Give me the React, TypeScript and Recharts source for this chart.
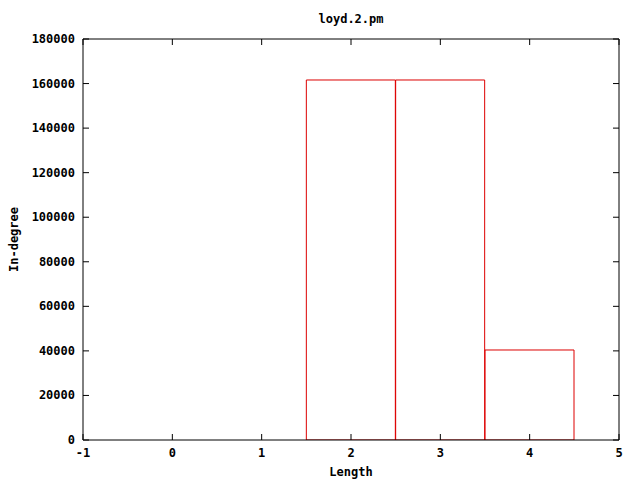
import React from 'react';
import { ComposedChart, Bar, Line, XAxis, YAxis } from 'recharts';

const lengths = [2, 3, 4];
const inDegree = [161600, 161600, 40400];
const xTicks = [-1, 0, 1, 2, 3, 4, 5];
const yTicks = [0, 20000, 40000, 60000, 80000, 100000, 120000, 140000, 160000, 180000];
const title = 'loyd.2.pm';
const xLabel = 'Length';
const yLabel = 'In-degree';

const data = lengths.map((l, i) => ({ length: l, value: inDegree[i] }));

const FONT = '"DejaVu Sans Mono", monospace';
const TICK = 6;

const XTickBottom = (props: any) => {
  const { x, y, payload } = props;
  return (
    <g>
      <line x1={x} x2={x} y1={y} y2={y - TICK} stroke="#000" />
      <text x={x} y={y + 17} textAnchor="middle" fontFamily={FONT} fontWeight="bold" fontSize={12} fill="#000">
        {payload.value}
      </text>
    </g>
  );
};
const XTickTop = (props: any) => {
  const { x, y } = props;
  return <line x1={x} x2={x} y1={y} y2={y + TICK} stroke="#000" />;
};
const YTickLeft = (props: any) => {
  const { x, y, payload } = props;
  return (
    <g>
      <line x1={x} x2={x + TICK} y1={y} y2={y} stroke="#000" />
      <text x={x - 8} y={y + 4} textAnchor="end" fontFamily={FONT} fontWeight="bold" fontSize={12} fill="#000">
        {payload.value}
      </text>
    </g>
  );
};
const YTickRight = (props: any) => {
  const { x, y } = props;
  return <line x1={x} x2={x - TICK} y1={y} y2={y} stroke="#000" />;
};

export default function App() {
  return (
    <div style={{ position: 'absolute', left: 0, top: 0, width: 640, height: 480, background: '#fff' }}>
      <div
        style={{
          position: 'absolute',
          left: 83,
          width: 536,
          top: 12,
          textAlign: 'center',
          fontFamily: FONT,
          fontWeight: 'bold',
          fontSize: 12,
        }}
      >
        {title}
      </div>
      <ComposedChart
        width={640}
        height={480}
        data={data}
        margin={{ top: 38, right: 20, left: 0, bottom: 0 }}
        barCategoryGap={0}
        barGap={0}
      >
        <XAxis
          xAxisId="b"
          dataKey="length"
          type="number"
          domain={[-1, 5]}
          ticks={xTicks}
          allowDataOverflow
          height={40}
          tickSize={0}
          tickMargin={0}
          tickLine={false}
          interval={0}
          axisLine={{ stroke: '#000' }}
          tick={<XTickBottom />}
          label={{
            content: (p: any) => {
              const vb = p.viewBox;
              return (
                <text x={vb.x + vb.width / 2} y={vb.y + 36} textAnchor="middle" fontFamily={FONT} fontWeight="bold" fontSize={12} fill="#000">
                  {xLabel}
                </text>
              );
            },
          }}
        />
        <XAxis
          xAxisId="t"
          orientation="top"
          dataKey="length"
          type="number"
          domain={[-1, 5]}
          ticks={xTicks}
          allowDataOverflow
          height={1}
          tickSize={0}
          tickMargin={0}
          tickLine={false}
          interval={0}
          axisLine={{ stroke: '#000' }}
          tick={<XTickTop />}
        />
        <YAxis
          yAxisId="l"
          type="number"
          domain={[0, 180000]}
          ticks={yTicks}
          allowDataOverflow
          width={83}
          tickSize={0}
          tickMargin={0}
          tickLine={false}
          interval={0}
          axisLine={{ stroke: '#000' }}
          tick={<YTickLeft />}
          label={{
            content: (p: any) => {
              const vb = p.viewBox;
              const cx = 18;
              const cy = vb.y + vb.height / 2;
              return (
                <text x={cx} y={cy} transform={`rotate(-90 ${cx} ${cy})`} textAnchor="middle" fontFamily={FONT} fontWeight="bold" fontSize={12} fill="#000">
                  {yLabel}
                </text>
              );
            },
          }}
        />
        <YAxis
          yAxisId="r"
          orientation="right"
          type="number"
          domain={[0, 180000]}
          ticks={yTicks}
          allowDataOverflow
          width={1}
          tickSize={0}
          tickMargin={0}
          tickLine={false}
          interval={0}
          axisLine={{ stroke: '#000' }}
          tick={<YTickRight />}
        />
        <Line
          xAxisId="t"
          yAxisId="r"
          dataKey="value"
          stroke="none"
          dot={false}
          activeDot={false}
          isAnimationActive={false}
        />
        <Bar
          xAxisId="b"
          yAxisId="l"
          dataKey="value"
          fill="none"
          stroke="#dd0000"
          strokeWidth={1}
          isAnimationActive={false}
        />
      </ComposedChart>
    </div>
  );
}
